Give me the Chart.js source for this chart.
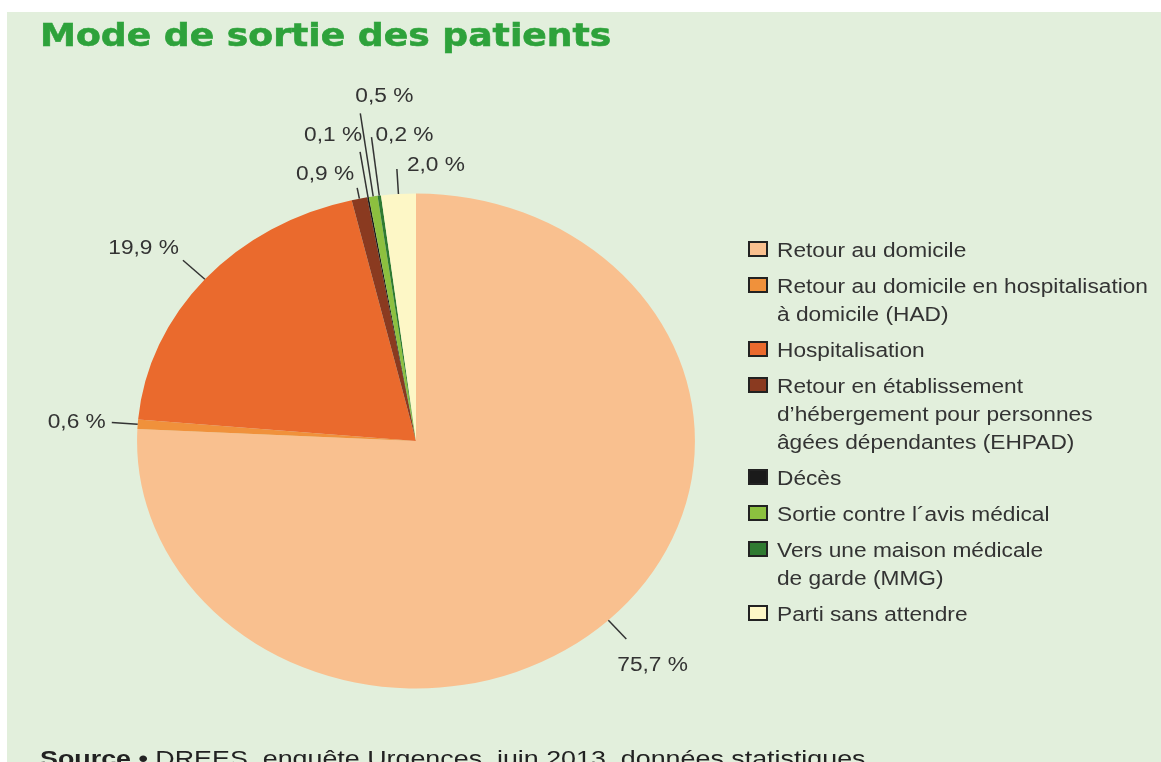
<!DOCTYPE html>
<html>
<head>
<meta charset="utf-8">
<script src="https://cdn.jsdelivr.net/npm/chart.js@4.4.0/dist/chart.umd.min.js"></script>
<style>
  html, body { margin: 0; padding: 0; background: #fff; overflow: hidden; width: 1161px; height: 762px; }
  #panel { position: absolute; left: 7px; top: 12px; width: 1154px; height: 750px; background: #e2efdc; }
  #chart { position: absolute; left: 0; top: 0; }
  .stretch { transform-origin: 0 0; white-space: nowrap; }
  #title { position: absolute; left: 40px; top: 19px; font: bold 32px/32px "DejaVu Sans", Verdana, sans-serif;
           color: #2ea23b; transform: scaleX(1.13); -webkit-text-stroke: 0.6px #2ea23b; }
  #legend { position: absolute; left: 748px; top: 236px; font: 20px/28px "Liberation Sans", Arial, sans-serif; color: #333; }
  .item { position: relative; margin-bottom: 8px; }
  .box { position: absolute; left: 0; top: 5px; width: 20px; height: 16px; box-sizing: border-box; border: 2px solid #222; }
  .txt { margin-left: 29px; transform: scaleX(1.135); }
  #source { position: absolute; left: 40px; top: 745px; font: 22px/28px "Liberation Sans", Arial, sans-serif; color: #222;
            transform: scaleX(1.22); }
</style>
</head>
<body>
<div id="panel"></div>
<canvas id="chart" width="1161" height="762"></canvas>
<div id="title" class="stretch">Mode de sortie des patients</div>
<div id="legend"></div>
<div id="source" class="stretch"><b>Source •</b> DREES, enquête Urgences, juin 2013, données statistiques</div>
<script>
// categories (legend lines), values in %
const categories = [
  ['Retour au domicile'],
  ['Retour au domicile en hospitalisation', 'à domicile (HAD)'],
  ['Hospitalisation'],
  ['Retour en établissement', 'd\u2019hébergement pour personnes', 'âgées dépendantes (EHPAD)'],
  ['Décès'],
  ['Sortie contre l\u00b4avis médical'],
  ['Vers une maison médicale', 'de garde (MMG)'],
  ['Parti sans attendre']
];
const values = [75.7, 0.6, 19.9, 0.9, 0.1, 0.5, 0.2, 2.0];
const colors = ['#f9c08f', '#f0913b', '#ea6a2d', '#8a3a20', '#1a1a1a', '#8cc03f', '#2f7a31', '#fdf7c6'];

// label leader lengths and text placement [align, dx, dy]
const leaderLength = [26, 26, 29, 11, 46, 84, 59, 25];
const labelPlacement = [
  ['left', -9, 26],
  ['right', -6, 0],
  ['right', -4, -12],
  ['right', -3, -13],
  ['right', 2, -16],
  ['left', -5, -17],
  ['left', 4, -2],
  ['left', 10, -4]
];

const PIE_STRETCH = 1.127;
const TEXT_STRETCH = 1.135;

const fmt = v => v.toFixed(1).replace('.', ',') + ' %';

const ellipsePie = {
  id: 'ellipsePie',
  beforeDatasetsDraw(chart) {
    const arc = chart.getDatasetMeta(0).data[0];
    const ctx = chart.ctx;
    ctx.save();
    ctx.translate(arc.x, arc.y);
    ctx.scale(PIE_STRETCH, 1);
    ctx.translate(-arc.x, -arc.y);
  },
  afterDatasetsDraw(chart) {
    const ctx = chart.ctx;
    ctx.restore();
    const meta = chart.getDatasetMeta(0);
    meta.data.forEach((arc, i) => {
      const a = (arc.startAngle + arc.endAngle) / 2;
      const r = arc.outerRadius;
      const ex = arc.x + Math.cos(a) * r * PIE_STRETCH;
      const ey = arc.y + Math.sin(a) * r;
      const lx = ex + Math.cos(a) * leaderLength[i];
      const ly = ey + Math.sin(a) * leaderLength[i];
      ctx.save();
      ctx.strokeStyle = '#333';
      ctx.lineWidth = 1.5;
      ctx.beginPath();
      ctx.moveTo(ex, ey);
      ctx.lineTo(lx, ly);
      ctx.stroke();
      const [align, dx, dy] = labelPlacement[i];
      ctx.translate(lx + dx, ly + dy);
      ctx.scale(TEXT_STRETCH, 1);
      ctx.font = '20px "Liberation Sans", Arial, sans-serif';
      ctx.fillStyle = '#333';
      ctx.textAlign = align;
      ctx.textBaseline = 'middle';
      ctx.fillText(fmt(values[i]), 0, 0);
      ctx.restore();
    });
  }
};

new Chart(document.getElementById('chart'), {
  type: 'pie',
  data: {
    labels: categories,
    datasets: [{
      data: values,
      backgroundColor: colors,
      borderWidth: 0,
      clip: false
    }]
  },
  options: {
    responsive: false,
    animation: false,
    events: [],
    layout: { padding: { left: 168.5, right: 497.5, top: 193.5, bottom: 73.5 } },
    plugins: {
      legend: { display: false },
      tooltip: { enabled: false }
    }
  },
  plugins: [ellipsePie]
});

// legend
const legendEl = document.getElementById('legend');
categories.forEach((lines, i) => {
  const item = document.createElement('div');
  item.className = 'item';
  const box = document.createElement('span');
  box.className = 'box';
  box.style.background = colors[i];
  const txt = document.createElement('div');
  txt.className = 'txt stretch';
  txt.innerHTML = lines.join('<br>');
  item.appendChild(box);
  item.appendChild(txt);
  legendEl.appendChild(item);
});
</script>
</body>
</html>
